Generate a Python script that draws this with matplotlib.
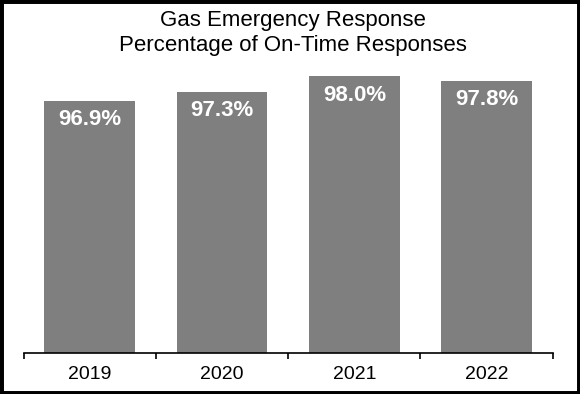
import matplotlib
matplotlib.use("Agg")
import matplotlib.pyplot as plt
from matplotlib.patches import Rectangle
import numpy as np

plt.rcParams['font.family'] = ['Liberation Sans', 'DejaVu Sans']

years = ["2019", "2020", "2021", "2022"]
values = [96.9, 97.3, 98.0, 97.8]
labels = ["96.9%", "97.3%", "98.0%", "97.8%"]
title = "Gas Emergency Response\nPercentage of On-Time Responses"

W, H = 580, 394
fig = plt.figure(figsize=(W / 100, H / 100), dpi=100)
fig.patch.set_facecolor("white")

left, right = 23.7, 552.7
bottom, top = 352.7, 60.0
ax = fig.add_axes([left / W, 1 - bottom / H, (right - left) / W, (bottom - top) / H])

ymin = 85.5
px_per = 22.1
ymax = ymin + (bottom - top) / px_per
x = np.arange(len(years))
bars = ax.bar(x, [v - ymin for v in values], bottom=ymin, width=0.686, color="#7f7f7f", zorder=2)
ax.set_ylim(ymin, ymax)
ax.set_xlim(-0.5, len(years) - 0.5)

for xi, v, lab in zip(x, values, labels):
    ax.annotate(lab, (xi, v), xytext=(0, -19), textcoords="offset pixels",
                ha="center", va="center", color="white", fontsize=16, fontweight="bold")

for s in ["left", "right", "top"]:
    ax.spines[s].set_visible(False)
ax.spines["bottom"].set_linewidth(1.2)
ax.yaxis.set_visible(False)
ax.set_xticks(np.arange(len(years) + 1) - 0.5)
ax.set_xticklabels([])
ax.tick_params(axis="x", which="major", direction="out", length=4.5, width=1.2)
ax.set_xticks(x, minor=True)
ax.set_xticklabels(years, minor=True, fontsize=14)
ax.tick_params(axis="x", which="minor", length=0, pad=9.5)

fig.text(0.505, 1 - 33 / H, title, ha="center", va="center", fontsize=16, linespacing=1.28)

fig.patches.append(Rectangle((0, 0), 1, 1, transform=fig.transFigure, fill=False,
                             edgecolor="black", linewidth=5, zorder=10))

fig.savefig("out.png", dpi=100)
